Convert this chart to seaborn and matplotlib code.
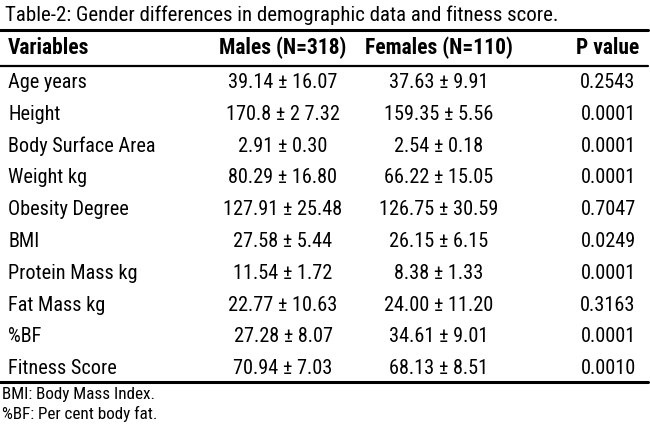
import matplotlib
matplotlib.use("Agg")
import matplotlib.pyplot as plt
import seaborn as sns

# table contents
variables = ["Age years", "Height", "Body Surface Area", "Weight kg", "Obesity Degree",
             "BMI", "Protein Mass kg", "Fat Mass kg", "%BF", "Fitness Score"]
males = ["39.14 ± 16.07", "170.8 ± 2 7.32", "2.91 ± 0.30", "80.29 ± 16.80", "127.91 ± 25.48",
         "27.58 ± 5.44", "11.54 ± 1.72", "22.77 ± 10.63", "27.28 ± 8.07", "70.94 ± 7.03"]
females = ["37.63 ± 9.91", "159.35 ± 5.56", "2.54 ± 0.18", "66.22 ± 15.05", "126.75 ± 30.59",
           "26.15 ± 6.15", "8.38 ± 1.33", "24.00 ± 11.20", "34.61 ± 9.01", "68.13 ± 8.51"]
p_values = ["0.2543", "0.0001", "0.0001", "0.0001", "0.7047",
            "0.0249", "0.0001", "0.3163", "0.0001", "0.0010"]
headers = ["Variables", "Males (N=318)", "Females (N=110)", "P value"]
title = "Table-2: Gender differences in demographic data and fitness score."
notes = ["BMI: Body Mass Index.", "%BF: Per cent body fat."]

sns.set_theme(style="white")
plt.rcParams['font.family'] = ['Roboto Condensed', 'Liberation Sans Narrow', 'DejaVu Sans']
plt.rcParams['font.stretch'] = 'condensed'
plt.rcParams['text.color'] = 'black'

fig = plt.figure(figsize=(6.5, 4.33), dpi=100)
ax = fig.add_axes([0, 0, 1, 1])
ax.set_xlim(0, 650)
ax.set_ylim(433, 0)
ax.axis('off')

fs = 14.6
col_x = [8, 283, 439, 608]
col_ha = ['left', 'center', 'center', 'center']

ax.text(5, 15, title, fontsize=15, va='center', ha='left')

# rules
ax.plot([0, 648], [30, 30], color='black', lw=2.2)
ax.plot([0, 648], [66, 66], color='black', lw=1.6)
ax.plot([0, 648], [382, 382], color='black', lw=2.2)

for x, ha, h in zip(col_x, col_ha, headers):
    ax.text(x, 47.5, h, fontsize=15.5, fontweight='bold', va='center', ha=ha)

for i, (v, m, f, p) in enumerate(zip(variables, males, females, p_values)):
    y = 82.5 + i * 31.8
    for x, ha, t in zip(col_x, col_ha, [v, m, f, p]):
        ax.text(x, y, t, fontsize=fs, va='center', ha=ha)

for j, n in enumerate(notes):
    ax.text(2, 394 + j * 20, n, fontsize=12.3, va='center', ha='left')

fig.savefig("out.png", dpi=100)
